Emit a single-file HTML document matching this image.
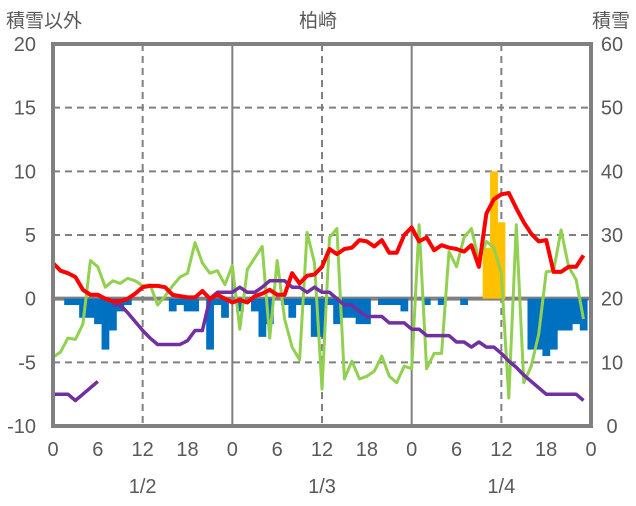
<!DOCTYPE html>
<html><head><meta charset="utf-8"><style>
body{margin:0;background:#fff;}
svg text{font-family:"Liberation Sans","Noto Sans CJK JP",sans-serif;fill:#595959;}
</style></head><body>
<svg id="chart" width="636" height="501" viewBox="0 0 636 501" xmlns="http://www.w3.org/2000/svg">
<text x="6" y="27" font-size="19">積雪以外</text>
<text x="318" y="27" font-size="19" text-anchor="middle">柏崎</text>
<text x="630" y="27" font-size="19" text-anchor="end">積雪</text>
<g id="grid"></g>
<g id="bars"></g>
<g id="lines"></g>
<g id="axes"></g>
</svg>
<script>
const leftTicks=[20,15,10,5,0,-5,-10];
const rightTicks=[60,50,40,30,20,10,0];
const hourLabels=[0,6,12,18,0,6,12,18,0,6,12,18,0];
const dateLabels=["1/2","1/3","1/4"];
const red=[2.8,2.2,2.0,1.7,0.7,0.3,0.3,0.0,-0.2,-0.2,0.0,0.4,0.9,1.0,1.0,0.9,0.3,0.2,0.1,0.1,0.6,0.0,0.3,0.0,-0.3,-0.1,-0.3,0.2,0.4,0.7,0.3,0.3,2.0,1.2,1.8,1.9,2.5,3.9,3.5,3.9,4.0,4.6,4.5,4.1,4.6,3.6,3.6,5.0,5.6,4.5,4.8,3.8,4.2,4.0,3.9,3.7,4.2,2.5,6.7,7.8,8.2,8.3,7.1,6.0,5.1,4.5,4.6,2.1,2.1,2.5,2.5,3.4];
const green=[-4.6,-4.2,-3.1,-3.2,-2.0,3.0,2.5,0.9,1.4,1.2,1.6,1.4,1.0,1.1,-0.5,0.2,1.0,1.7,2.0,4.4,2.8,2.0,2.2,1.1,2.6,-2.4,2.3,3.2,4.1,-3.1,3.0,-1.6,-3.8,-4.8,5.2,2.8,-7.1,4.8,5.5,-6.3,-4.9,-6.3,-6.1,-5.7,-4.5,-6.1,-6.6,-5.3,-5.5,5.8,-5.5,-4.3,-4.3,3.7,2.5,4.8,5.5,3.0,4.5,4.0,2.0,-7.8,5.8,-6.6,-5.3,-2.8,2.1,2.2,5.4,2.5,1.5,-1.6];
const purple=[-7.5,-7.5,-7.5,-8.0,-7.5,-7.0,-6.5,null,-0.5,-0.5,-1.1,-1.8,-2.5,-3.1,-3.6,-3.6,-3.6,-3.6,-3.3,-2.5,-2.5,0.0,0.5,0.5,0.5,0.9,0.5,0.5,0.9,1.4,1.4,1.4,0.9,0.9,0.5,0.9,0.5,0.5,0.0,-0.5,-0.5,-1.0,-1.4,-1.4,-1.4,-1.9,-1.9,-1.9,-2.4,-2.4,-2.9,-2.9,-2.9,-2.9,-3.4,-3.4,-3.8,-3.4,-3.8,-3.8,-4.3,-4.9,-5.4,-6.0,-6.5,-7.0,-7.5,-7.5,-7.5,-7.5,-7.5,-8.0];
const blue=[0,0,-0.5,-0.5,-1.5,-1.5,-2.0,-4.0,-2.5,-1.0,-0.5,0,0,0,0,0,-1.0,-0.5,-1.0,-1.0,0,-4.0,-0.5,-1.5,0,-1.0,0,-1.0,-3.0,-2.0,0,-0.5,-1.5,-0.5,-0.5,-3.0,-3.0,-0.5,-2.0,-1.5,-1.5,-2.0,-2.0,0,-0.5,-0.5,-0.5,-1.0,0,0,-0.5,0,-0.5,0,0,-0.5,0,0,0,0,0,0,0,0,-4.0,-4.0,-4.5,-4.0,-2.5,-2.5,-2.0,-2.5];
const snowHours=[58,59,60];
const snowDepth=[28,40,32];

const NS="http://www.w3.org/2000/svg";
const X0=53,X1=591,Y0=44,Y1=426;
function xs(h){return X0+(h/72)*(X1-X0);}
function yl(v){return Y1-(v+10)/30*(Y1-Y0);}
function yr(v){return Y1-v/60*(Y1-Y0);}
function mk(tag,attrs,parent){const e=document.createElementNS(NS,tag);for(const k in attrs)e.setAttribute(k,attrs[k]);parent.appendChild(e);return e;}
const grid=document.getElementById('grid'),bars=document.getElementById('bars'),lines=document.getElementById('lines'),axes=document.getElementById('axes');
leftTicks.forEach(v=>{
  if(v===20||v===-10||v===0)return;
  const l=mk('line',{x1:X0,x2:X1,y1:yl(v),y2:yl(v),stroke:'#808080','stroke-width':2,'stroke-dasharray':'7,5'},grid);
  
  
});
for(let h=12;h<72;h+=12){
  const solid=(h%24===0);
  const l=mk('line',{x1:xs(h),x2:xs(h),y1:Y0,y2:Y1,stroke:'#808080','stroke-width':2},grid);
  if(!solid)l.setAttribute('stroke-dasharray','7,5');
  
  
}
const bw=(X1-X0)/72;
blue.forEach((v,h)=>{
  if(!v)return;
  const r=mk('rect',{x:xs(h)-bw/2,y:yl(0),width:bw+0.3,height:yl(v)-yl(0),fill:'#0070c0'},bars);
  
  
});
snowHours.forEach((h,i)=>{
  const top=yr(snowDepth[i]);
  const r=mk('rect',{x:xs(h)-bw/2,y:top,width:bw+0.3,height:yr(20)-top,fill:'#ffc000'},bars);
  
  
});
const z=mk('line',{x1:X0,x2:X1,y1:yl(0),y2:yl(0),stroke:'#808080','stroke-width':4},grid);


function path(arr){let d='',pen=false;arr.forEach((v,h)=>{if(v===null){pen=false;return;}d+=(pen?'L':'M')+xs(h).toFixed(1)+','+yl(v).toFixed(1);pen=true;});return d;}
const sG=mk('path',{d:path(green),fill:'none',stroke:'#92d050','stroke-width':3,'stroke-linejoin':'round'},lines);


const sP=mk('path',{d:path(purple),fill:'none',stroke:'#7030a0','stroke-width':3.5,'stroke-linejoin':'round'},lines);


const sR=mk('path',{d:path(red),fill:'none',stroke:'#ff0000','stroke-width':4,'stroke-linejoin':'round'},lines);


const fr=mk('rect',{x:X0,y:Y0,width:X1-X0,height:Y1-Y0,fill:'none',stroke:'#808080','stroke-width':4},axes);


leftTicks.forEach(v=>{
  const t=mk('text',{x:36,y:yl(v)+7,'font-size':20,'text-anchor':'end'},axes);t.textContent=v;
  
  
});
rightTicks.forEach(v=>{
  const t=mk('text',{x:612,y:yr(v)+7,'font-size':20,'text-anchor':'middle'},axes);t.textContent=v;
  
  
});
hourLabels.forEach((v,i)=>{
  const t=mk('text',{x:xs(i*6),y:456,'font-size':20,'text-anchor':'middle'},axes);t.textContent=v;
  
  
});
dateLabels.forEach((v,i)=>{
  const t=mk('text',{x:xs(12+24*i),y:493,'font-size':20,'text-anchor':'middle'},axes);t.textContent=v;
  
  
});
</script>
</body></html>
